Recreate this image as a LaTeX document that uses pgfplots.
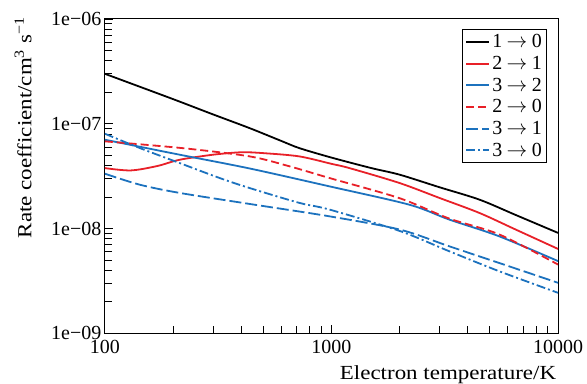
\documentclass[border=0pt]{standalone}
\usepackage{fontspec}
\setmainfont{Liberation Serif}
\newfontfamily\labelfont{Liberation Serif}[FakeStretch=1.15]
\usepackage{pgfplots}
\pgfplotsset{compat=1.18}
\definecolor{cred}{RGB}{232,32,40}
\definecolor{cblue}{RGB}{28,114,190}
\newcommand{\ar}{\hspace{0.22em}$\rightarrow$\hspace{0.22em}}
\begin{document}
\begin{tikzpicture}
\begin{axis}[
 name=main,
 scale only axis, width=454pt, height=315pt,
 xmode=log, ymode=log,
 xmin=100, xmax=10000, ymin=1e-9, ymax=1e-6,
 font=\fontsize{20}{24}\selectfont,
 /pgf/number format/assume math mode=true,
 xtick={100,1000,10000}, xticklabels={100,1000,10000},
 ytick={1e-9,1e-8,1e-7,1e-6}, yticklabels={1e−09,1e−08,1e−07,1e−06},
 xtick pos=bottom, ytick pos=left,
 tick align=inside,
 major tick length=8pt, minor tick length=7pt,
 every tick/.style={black, line width=0.8pt},
 axis line style={black, line width=1pt},
 xticklabel style={yshift=-3pt},
 xlabel={\labelfont Electron temperature/K},
 ylabel={\labelfont Rate coefficient/cm\textsuperscript{3} s\textsuperscript{−1}},
 xlabel style={at={(axis description cs:0.996,-0.101)}, anchor=north east, inner sep=0pt},
 ylabel style={at={(axis description cs:-0.161,1.006)}, anchor=south east, inner sep=0pt},
 legend style={at={(axis description cs:0.976,0.968)}, anchor=north east, draw=black, line width=0.8pt,
   font=\fontsize{20}{24}\selectfont, row sep=3pt, inner xsep=3pt, inner ysep=3pt},
 legend cell align=left,
 legend image code/.code={\draw[#1, line width=2pt] (0pt,0pt) -- (23pt,0pt);},
 every axis plot/.append style={line width=1.8pt},
]
% 1 -> 0
\addplot[black, smooth] coordinates {
 (100,3.0e-7) (200,1.72e-7) (300,1.23e-7) (435,9.1e-8) (600,6.87e-8) (722,5.86e-8)
 (1000,4.76e-8) (1500,3.78e-8) (2000,3.27e-8) (3000,2.48e-8) (4500,1.89e-8) (6500,1.35e-8) (10000,9.1e-9)};
\addlegendentry{1\ar 0}
% 2 -> 1
\addplot[cred, smooth] coordinates {
 (100,3.78e-8) (130,3.59e-8) (170,3.95e-8) (214,4.54e-8) (300,5.07e-8) (400,5.35e-8) (500,5.25e-8)
 (720,4.89e-8) (1000,4.15e-8) (1200,3.78e-8) (2000,2.72e-8) (3000,1.96e-8) (4500,1.41e-8) (6500,9.8e-9) (10000,6.4e-9)};
\addlegendentry{2\ar 1}
% 3 -> 2
\addplot[cblue, smooth] coordinates {
 (100,7.05e-8) (214,5.07e-8) (435,3.75e-8) (980,2.53e-8) (2208,1.69e-8) (3311,1.22e-8) (5495,8.45e-9) (10000,4.9e-9)};
\addlegendentry{3\ar 2}
% 2 -> 0
\addplot[cred, smooth, dash pattern=on 8pt off 4pt] coordinates {
 (100,6.8e-8) (220,5.86e-8) (435,4.89e-8) (653,3.93e-8) (980,3.04e-8) (2000,1.95e-8) (3300,1.25e-8) (5500,8.8e-9) (10000,4.54e-9)};
\addlegendentry{2\ar 0}
% 3 -> 1
\addplot[cblue, smooth, dash pattern=on 12pt off 4pt] coordinates {
 (100,3.34e-8) (143,2.62e-8) (214,2.19e-8) (435,1.72e-8) (980,1.31e-8) (2000,9.8e-9) (3300,6.8e-9) (5500,4.7e-9) (10000,3.04e-9)};
\addlegendentry{3\ar 1}
% 3 -> 0
\addplot[cblue, smooth, dash pattern=on 9pt off 3pt on 2pt off 3pt] coordinates {
 (100,8.04e-8) (143,5.86e-8) (214,4.22e-8) (321,3.04e-8) (435,2.44e-8) (722,1.76e-8) (980,1.52e-8) (2000,9.5e-9) (3300,6.1e-9) (5500,3.92e-9) (10000,2.44e-9)};
\addlegendentry{3\ar 0}
\end{axis}
\path (main.south west) ++(-105pt,-49pt);
\path (main.north east) ++(29pt,19pt);
\end{tikzpicture}
\end{document}
